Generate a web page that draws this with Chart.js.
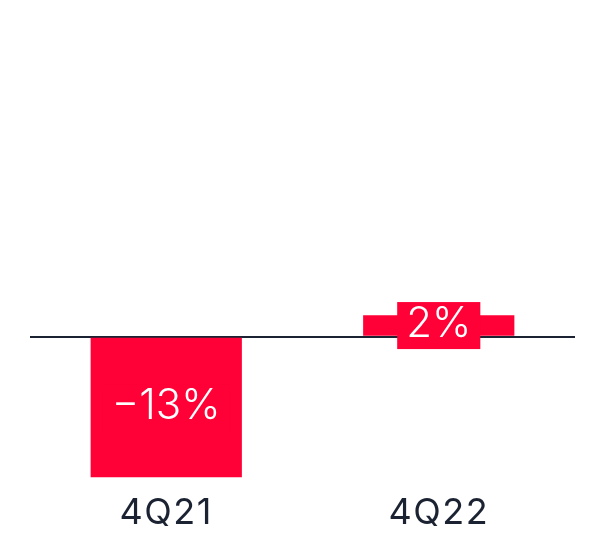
<!DOCTYPE html>
<html>
<head>
<meta charset="utf-8">
<script src="https://cdn.jsdelivr.net/npm/chart.js@4"></script>
<style>
  html, body { margin: 0; padding: 0; background: #fff; }
  #wrap { width: 591px; height: 536px; }
</style>
</head>
<body>
<div id="wrap"><canvas id="chart"></canvas></div>
<script>
const quarters = ['4Q21', '4Q22'];
const growth = [-13, 2];

const RED = '#ff0037';
const INK = '#1b2232';

// a bit of tracking for the axis labels
const tracking = {
  id: 'tracking',
  beforeDraw(chart) {
    chart.ctx.letterSpacing = '1.5px';
  }
};

// value labels centred in each bar, on a red plate
const barLabels = {
  id: 'barLabels',
  afterDatasetsDraw(chart) {
    const ctx = chart.ctx;
    const meta = chart.getDatasetMeta(0);
    ctx.save();
    ctx.letterSpacing = '0px';
    ctx.font = '300 42px Inter';
    ctx.textAlign = 'center';
    ctx.textBaseline = 'middle';
    meta.data.forEach((bar, i) => {
      const text = (growth[i] < 0 ? '\u2212' : '') + Math.abs(growth[i]) + '%';
      const cy = (bar.y + bar.base) / 2;
      const w = ctx.measureText(text).width + 18;
      ctx.fillStyle = RED;
      ctx.fillRect(bar.x - w / 2, cy - 23.5, w, 47);
      ctx.fillStyle = '#fff';
      ctx.fillText(text, bar.x, cy - 1);
    });
    ctx.restore();
  }
};

new Chart(document.getElementById('chart'), {
  type: 'bar',
  data: {
    labels: quarters,
    datasets: [{
      data: growth,
      backgroundColor: RED,
      borderWidth: 0,
      categoryPercentage: 1,
      barPercentage: 0.555
    }]
  },
  options: {
    responsive: true,
    maintainAspectRatio: false,
    animation: false,
    layout: { padding: { left: 30, right: 16, top: 13, bottom: 0 } },
    plugins: {
      legend: { display: false },
      tooltip: { enabled: false }
    },
    scales: {
      x: {
        grid: { display: false },
        border: { display: false },
        afterFit(scale) { scale.height = 48; },
        ticks: {
          color: INK,
          font: { family: 'Inter', size: 36 },
          padding: -4
        }
      },
      y: {
        display: true,
        min: -14,
        max: 30,
        ticks: { display: false },
        border: { display: false },
        grid: {
          drawTicks: false,
          lineWidth: 2,
          color: (c) => c.tick && c.tick.value === 0 ? INK : 'rgba(0,0,0,0)'
        }
      }
    }
  },
  plugins: [tracking, barLabels]
});
</script>
</body>
</html>
